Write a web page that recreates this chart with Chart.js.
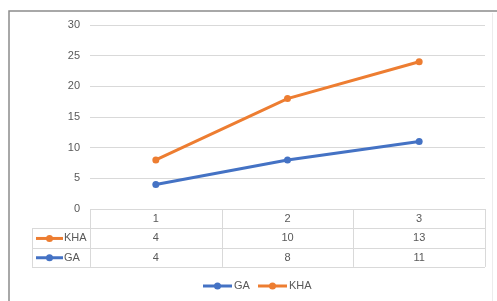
<!DOCTYPE html>
<html>
<head>
<meta charset="utf-8">
<script src="https://cdn.jsdelivr.net/npm/chart.js@4.4.1/dist/chart.umd.min.js"></script>
<style>
html,body{margin:0;padding:0;background:#fff;}
#wrap{width:497px;height:301px;position:relative;}
</style>
</head>
<body>
<div id="wrap"><canvas id="c" width="497" height="301"></canvas></div>
<script>
const categories = ['1', '2', '3'];
const gaValues = [4, 8, 11];
const khaValues = [4, 10, 13];
const yTicks = [0, 5, 10, 15, 20, 25, 30];

const BLUE = '#4472C4';
const ORANGE = '#ED7D31';
const GRID = '#d9d9d9';
const TEXT = '#595959';
const FONT = '11px "Liberation Sans", Arial, sans-serif';

function markerLine(ctx, x1, x2, y, color) {
  ctx.save();
  ctx.strokeStyle = color;
  ctx.lineWidth = 3;
  ctx.beginPath();
  ctx.moveTo(x1, y);
  ctx.lineTo(x2, y);
  ctx.stroke();
  ctx.fillStyle = color;
  ctx.beginPath();
  ctx.arc((x1 + x2) / 2, y, 3.5, 0, Math.PI * 2);
  ctx.fill();
  ctx.restore();
}

const tablePlugin = {
  id: 'tablePlugin',
  afterDraw(chart) {
    const ctx = chart.ctx;
    const area = chart.chartArea;
    const xs = chart.scales.x;
    const top = area.bottom;
    const rowH = 19.3;
    const rows = [
      {label: null},
      {label: 'KHA', color: ORANGE, values: khaValues},
      {label: 'GA', color: BLUE, values: gaValues}
    ];
    const n = categories.length;
    const colW = (area.right - area.left) / n;
    ctx.save();
    ctx.strokeStyle = GRID;
    ctx.lineWidth = 1;
    // horizontal lines
    for (let r = 0; r <= rows.length; r++) {
      const y = Math.round(top + r * rowH) + 0.5;
      const x0 = r === 0 ? area.left : 32;
      ctx.beginPath();
      ctx.moveTo(x0, y);
      ctx.lineTo(area.right, y);
      ctx.stroke();
    }
    // vertical lines
    for (let c = 0; c <= n; c++) {
      const x = Math.round(area.left + c * colW) + 0.5;
      ctx.beginPath();
      ctx.moveTo(x, top);
      ctx.lineTo(x, top + rows.length * rowH);
      ctx.stroke();
    }
    ctx.beginPath();
    ctx.moveTo(32.5, top + rowH);
    ctx.lineTo(32.5, top + rows.length * rowH);
    ctx.stroke();

    ctx.font = FONT;
    ctx.fillStyle = TEXT;
    ctx.textAlign = 'center';
    ctx.textBaseline = 'middle';
    categories.forEach((cat, i) => {
      ctx.fillText(cat, xs.getPixelForValue(i), top + rowH * 0.5 + 0.5);
    });
    rows.slice(1).forEach((row, ri) => {
      const cy = top + rowH * (ri + 1.5) + 0.5;
      row.values.forEach((v, i) => {
        ctx.fillStyle = TEXT;
        ctx.textAlign = 'center';
        ctx.fillText(String(v), xs.getPixelForValue(i), cy);
      });
      markerLine(ctx, 36, 63, cy, row.color);
      ctx.fillStyle = TEXT;
      ctx.textAlign = 'left';
      ctx.fillText(row.label, 64, cy);
    });

    // bottom legend
    const ly = 286;
    markerLine(ctx, 203, 232, ly, BLUE);
    ctx.fillStyle = TEXT;
    ctx.textAlign = 'left';
    ctx.fillText('GA', 234, ly);
    markerLine(ctx, 258, 287, ly, ORANGE);
    ctx.fillStyle = TEXT;
    ctx.fillText('KHA', 289, ly);

    // outer frame
    ctx.strokeStyle = '#8c8c8c';
    ctx.lineWidth = 1.5;
    ctx.beginPath();
    ctx.moveTo(9, 301);
    ctx.lineTo(9, 11);
    ctx.lineTo(497, 11);
    ctx.stroke();
    ctx.strokeStyle = '#ececec';
    ctx.lineWidth = 1;
    ctx.beginPath();
    ctx.moveTo(492.5, 13);
    ctx.lineTo(492.5, 301);
    ctx.stroke();
    ctx.restore();
  }
};

new Chart(document.getElementById('c'), {
  type: 'line',
  data: {
    labels: categories,
    datasets: [
      {label: 'GA', data: gaValues, borderColor: BLUE, backgroundColor: BLUE, borderWidth: 3, pointRadius: 3.5, pointBackgroundColor: BLUE, pointBorderWidth: 0, tension: 0},
      {label: 'KHA', data: khaValues, borderColor: ORANGE, backgroundColor: ORANGE, borderWidth: 3, pointRadius: 3.5, pointBackgroundColor: ORANGE, pointBorderWidth: 0, tension: 0}
    ]
  },
  options: {
    responsive: false,
    animation: false,
    devicePixelRatio: 1,
    layout: {padding: {left: 0, right: 12, top: 25, bottom: 92}},
    plugins: {legend: {display: false}, tooltip: {enabled: false}},
    scales: {
      x: {display: false, offset: true, stacked: true},
      y: {
        stacked: true,
        min: 0, max: 30,
        afterBuildTicks(scale) { scale.ticks = yTicks.map(v => ({value: v})); },
        afterFit(scale) { scale.width = 90; },
        border: {display: false},
        grid: {color: GRID, drawTicks: false, lineWidth: 1},
        ticks: {padding: 10, color: TEXT, font: {family: '"Liberation Sans", Arial, sans-serif', size: 11}}
      }
    }
  },
  plugins: [tablePlugin]
});
</script>
</body>
</html>
